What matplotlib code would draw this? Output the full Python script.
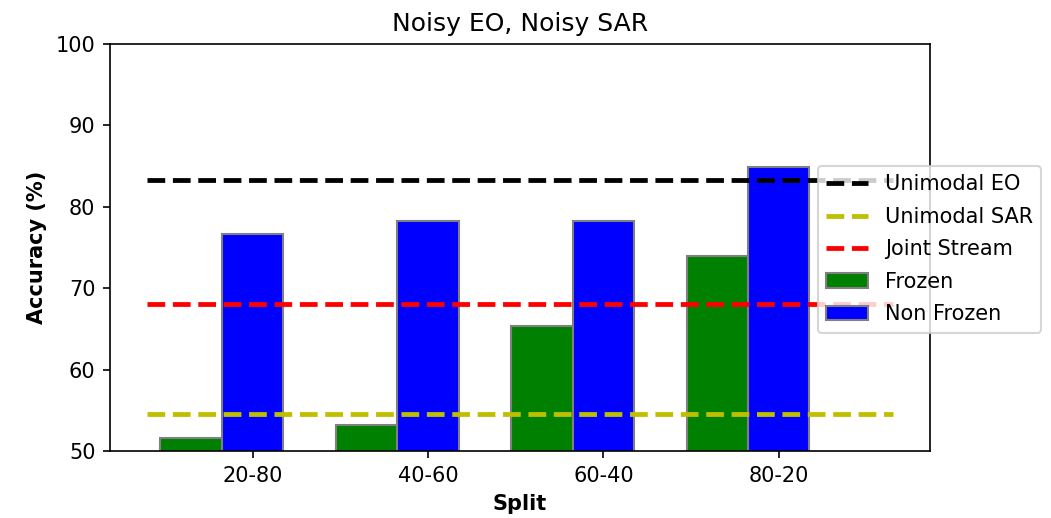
import numpy as np
from matplotlib import pyplot as plt

splits = ['20-80', '40-60', '60-40', '80-20']
frozen = [51.6, 53.2, 65.4, 73.9]
non_frozen = [76.6, 78.3, 78.3, 84.85]
unimodal_eo = 83.3
unimodal_sar = 54.6
joint_stream = 68.1

barWidth = 0.35
r1 = np.arange(len(splits))
r2 = r1 + barWidth

fig = plt.figure(figsize=(1051 / 150, 518 / 150), dpi=150)
ax = fig.add_axes([110 / 1051, 67 / 518, 820 / 1051, 407 / 518])

ax.plot([-0.25, 4], [unimodal_eo, unimodal_eo], 'k--', lw=2.3, label='Unimodal EO')
ax.plot([-0.25, 4], [unimodal_sar, unimodal_sar], 'y--', lw=2.3, label='Unimodal SAR')
ax.plot([-0.25, 4], [joint_stream, joint_stream], 'r--', lw=2.3, label='Joint Stream')
ax.bar(r1, frozen, width=barWidth, color='green', edgecolor='grey', label='Frozen')
ax.bar(r2, non_frozen, width=barWidth, color='blue', edgecolor='grey', label='Non Frozen')

ax.set_ylim(50, 100)
ax.set_xticks(r1 + barWidth)
ax.set_xticklabels(splits)
ax.set_xlabel('Split', fontweight='bold')
ax.set_ylabel('Accuracy (%)', fontweight='bold')
ax.set_title('Noisy EO, Noisy SAR')
ax.legend(loc='upper left', bbox_to_anchor=(818 / 1051, 1 - 166 / 518),
          bbox_transform=fig.transFigure, borderaxespad=0, labelspacing=0.6)

fig.savefig('out.png', dpi=150)
